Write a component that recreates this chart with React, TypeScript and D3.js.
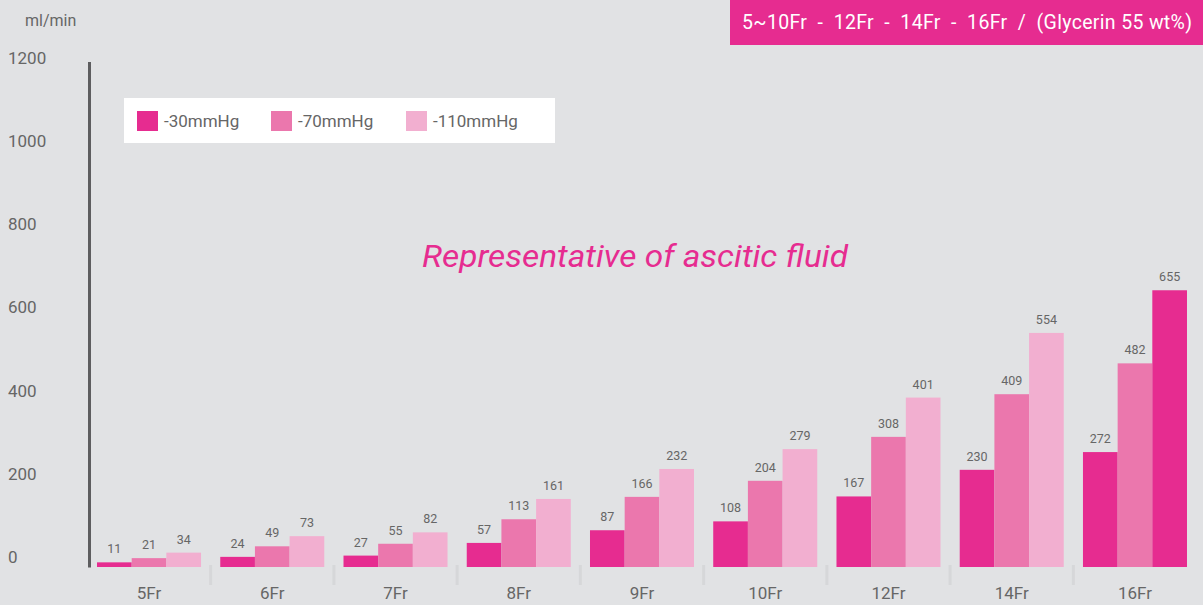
import React from "react";
import * as d3 from "d3";

const categories = ["5Fr", "6Fr", "7Fr", "8Fr", "9Fr", "10Fr", "12Fr", "14Fr", "16Fr"];
const seriesNames = ["-30mmHg", "-70mmHg", "-110mmHg"];
const s30 = [11, 24, 27, 57, 87, 108, 167, 230, 272];
const s70 = [21, 49, 55, 113, 166, 204, 308, 409, 482];
const s110 = [34, 73, 82, 161, 232, 279, 401, 554, 655];
const yTicks = [0, 200, 400, 600, 800, 1000, 1200];
const titleText = "5~10Fr  -  12Fr  -  14Fr  -  16Fr  /  (Glycerin 55 wt%)";
const unitText = "ml/min";
const noteText = "Representative of ascitic fluid";

const W = 1203;
const H = 605;
const BG = "#e1e2e4";
const COLORS = ["#e62c90", "#eb77ad", "#f2afd0"];
const TEXT = "#666";
const FONT = "Roboto, 'Noto Sans', sans-serif";

export default function App() {
  const series = [s30, s70, s110];
  const x = d3.scaleBand<string>().domain(categories).range([87.4, 1196.6]).paddingInner(0.156).paddingOuter(0.078);
  const xs = d3.scaleBand<number>().domain([0, 1, 2]).range([0, x.bandwidth()]);
  const y = d3.scaleLinear().domain([0, 1200]).range([567, 60]);
  const yLab = d3.scaleLinear().domain([0, 1200]).range([557, 58]);
  const baseline = y(0);

  const barColor = (ci: number, si: number) =>
    ci === categories.length - 1 && si === 2 ? COLORS[0] : COLORS[si];

  return (
    <svg width={W} height={H} style={{ position: "absolute", left: 0, top: 0, display: "block" }} fontFamily={FONT}>
      <rect x={0} y={0} width={W} height={H} fill={BG} />
      {/* title box */}
      <rect x={730} y={0} width={W - 730} height={45} fill="#e62c90" />
      <text x={742} y={29} fill="#fff" fontSize={19.5} textLength={450} lengthAdjust="spacing" style={{ whiteSpace: "pre" }} xmlSpace="preserve">{titleText}</text>
      {/* unit */}
      <text x={25} y={26} fill={TEXT} fontSize={16}>{unitText}</text>
      {/* y tick labels */}
      {yTicks.map((t) => (
        <text key={t} x={8} y={yLab(t)} dy="0.35em" fill={TEXT} fontSize={17}>{t}</text>
      ))}
      {/* y axis line */}
      <line x1={89.5} x2={89.5} y1={62} y2={baseline + 0.5} stroke="#5d5d5f" strokeWidth={3} />
      {/* separators */}
      {categories.slice(1).map((c) => {
        const sx = (x(c) as number) - (x.step() - x.bandwidth()) / 2;
        return <line key={"sep" + c} x1={sx} x2={sx} y1={565} y2={585} stroke="#d6d7d9" strokeWidth={3} />;
      })}
      {/* bars */}
      {categories.map((c, ci) => (
        <g key={c} transform={`translate(${x(c)},0)`}>
          {series.map((s, si) => (
            <g key={si}>
              <rect x={xs(si)} y={y(s[ci])} width={xs.bandwidth()} height={baseline - y(s[ci])} fill={barColor(ci, si)} />
              <text x={(xs(si) as number) + xs.bandwidth() / 2} y={y(s[ci]) - 9} textAnchor="middle" fill={TEXT} fontSize={12.5}>{s[ci]}</text>
            </g>
          ))}
          <text x={x.bandwidth() / 2} y={599} textAnchor="middle" fill={TEXT} fontSize={17}>{c}</text>
        </g>
      ))}
      {/* legend */}
      <rect x={124} y={98} width={431} height={45} fill="#fff" />
      {seriesNames.map((n, i) => {
        const lx = [137, 271, 406][i];
        return (
          <g key={n}>
            <rect x={lx} y={111} width={21} height={20} fill={COLORS[i]} />
            <text x={lx + 27} y={121} dy="0.35em" fill={TEXT} fontSize={17}>{n}</text>
          </g>
        );
      })}
      {/* note */}
      <text x={422} y={256} dy="0.35em" fill="#e62c90" fontSize={32} fontStyle="italic" textLength={426} lengthAdjust="spacingAndGlyphs">{noteText}</text>
    </svg>
  );
}
